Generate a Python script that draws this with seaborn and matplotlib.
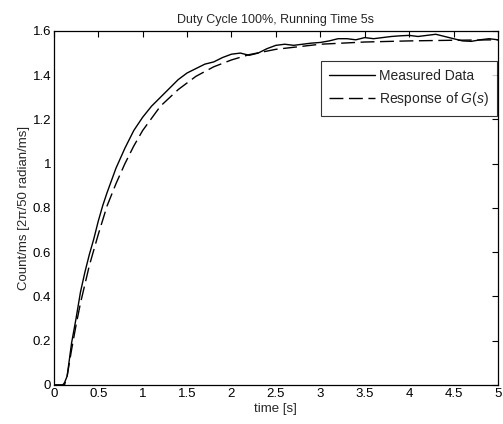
import matplotlib
matplotlib.use("Agg")
import matplotlib.pyplot as plt
import seaborn as sns
import pandas as pd

t_meas = [0, 0.1, 0.12, 0.15, 0.2, 0.25, 0.3, 0.35, 0.4, 0.45, 0.5, 0.55, 0.6, 0.7, 0.8, 0.9,
          1.0, 1.1, 1.2, 1.3, 1.4, 1.5, 1.6, 1.7, 1.8, 1.9, 2.0, 2.1, 2.2, 2.3, 2.4, 2.5,
          2.6, 2.7, 2.8, 2.9, 3.0, 3.1, 3.2, 3.3, 3.4, 3.5, 3.6, 3.7, 3.8, 3.9, 4.0, 4.1,
          4.2, 4.3, 4.4, 4.5, 4.6, 4.7, 4.8, 4.9, 5.0]
y_meas = [0, 0, 0.01, 0.04, 0.19, 0.30, 0.42, 0.51, 0.59, 0.66, 0.74, 0.81, 0.87, 0.98, 1.07, 1.15,
          1.21, 1.26, 1.30, 1.34, 1.38, 1.41, 1.43, 1.45, 1.46, 1.48, 1.495, 1.50, 1.49, 1.50, 1.52, 1.535,
          1.54, 1.535, 1.54, 1.545, 1.548, 1.555, 1.565, 1.565, 1.56, 1.57, 1.565, 1.57, 1.575, 1.578, 1.58, 1.575,
          1.58, 1.585, 1.575, 1.565, 1.555, 1.553, 1.56, 1.565, 1.56]

t_model = [0, 0.1, 0.12, 0.15, 0.2, 0.25, 0.3, 0.4, 0.5, 0.6, 0.7, 0.8, 0.9, 1.0, 1.2, 1.4,
           1.6, 1.8, 2.0, 2.2, 2.5, 3.0, 3.5, 4.0, 4.5, 5.0]
y_model = [0, 0, 0.0, 0.04, 0.16, 0.27, 0.37, 0.54, 0.68, 0.81, 0.91, 1.00, 1.08, 1.15, 1.26, 1.335,
           1.395, 1.438, 1.469, 1.493, 1.517, 1.54, 1.55, 1.555, 1.558, 1.56]

x_ticks = [0, 0.5, 1, 1.5, 2, 2.5, 3, 3.5, 4, 4.5, 5]
x_labels = ["0", "0.5", "1", "1.5", "2", "2.5", "3", "3.5", "4", "4.5", "5"]
y_ticks = [0, 0.2, 0.4, 0.6, 0.8, 1, 1.2, 1.4, 1.6]
y_labels = ["0", "0.2", "0.4", "0.6", "0.8", "1", "1.2", "1.4", "1.6"]

sns.set_theme(style="white")
plt.rcParams['font.family'] = ['Liberation Sans', 'DejaVu Sans']
plt.rcParams['mathtext.fontset'] = 'custom'
plt.rcParams['mathtext.it'] = 'Liberation Sans:italic'
plt.rcParams['mathtext.rm'] = 'Liberation Sans'

fig = plt.figure(figsize=(5.03, 4.24), dpi=100)
ax = fig.add_axes([0.107, 0.092, 0.883, 0.835])

df_m = pd.DataFrame({"t": t_meas, "y": y_meas})
df_g = pd.DataFrame({"t": t_model, "y": y_model})
sns.lineplot(data=df_m, x="t", y="y", ax=ax, color="black", lw=1.0, label="Measured Data")
sns.lineplot(data=df_g, x="t", y="y", ax=ax, color="black", lw=1.0, linestyle=(0, (10, 4)),
             label="Response of $G(s)$")

ax.set_xlim(0, 5)
ax.set_ylim(0, 1.6)
ax.set_xticks(x_ticks)
ax.set_xticklabels(x_labels)
ax.set_yticks(y_ticks)
ax.set_yticklabels(y_labels)
ax.tick_params(direction="in", length=4, width=0.8, top=True, right=True,
               labelsize=9.5, colors="black", pad=2)
for s in ax.spines.values():
    s.set_color("black")
    s.set_linewidth(0.9)
ax.set_xlabel("time [s]", fontsize=9.5, labelpad=2)
ax.set_ylabel("Count/ms [2π/50 radian/ms]", fontsize=9.5, labelpad=2)
ax.set_title("Duty Cycle 100%, Running Time 5s", fontsize=9, pad=6)

leg = ax.legend(loc="upper right", bbox_to_anchor=(0.997, 0.915), fontsize=10,
                frameon=True, fancybox=False, handlelength=3.3, handletextpad=0.3,
                borderpad=0.55, labelspacing=0.55, borderaxespad=0)
leg.get_frame().set_edgecolor("black")
leg.get_frame().set_linewidth(0.8)

fig.savefig("out.png", dpi=100)
